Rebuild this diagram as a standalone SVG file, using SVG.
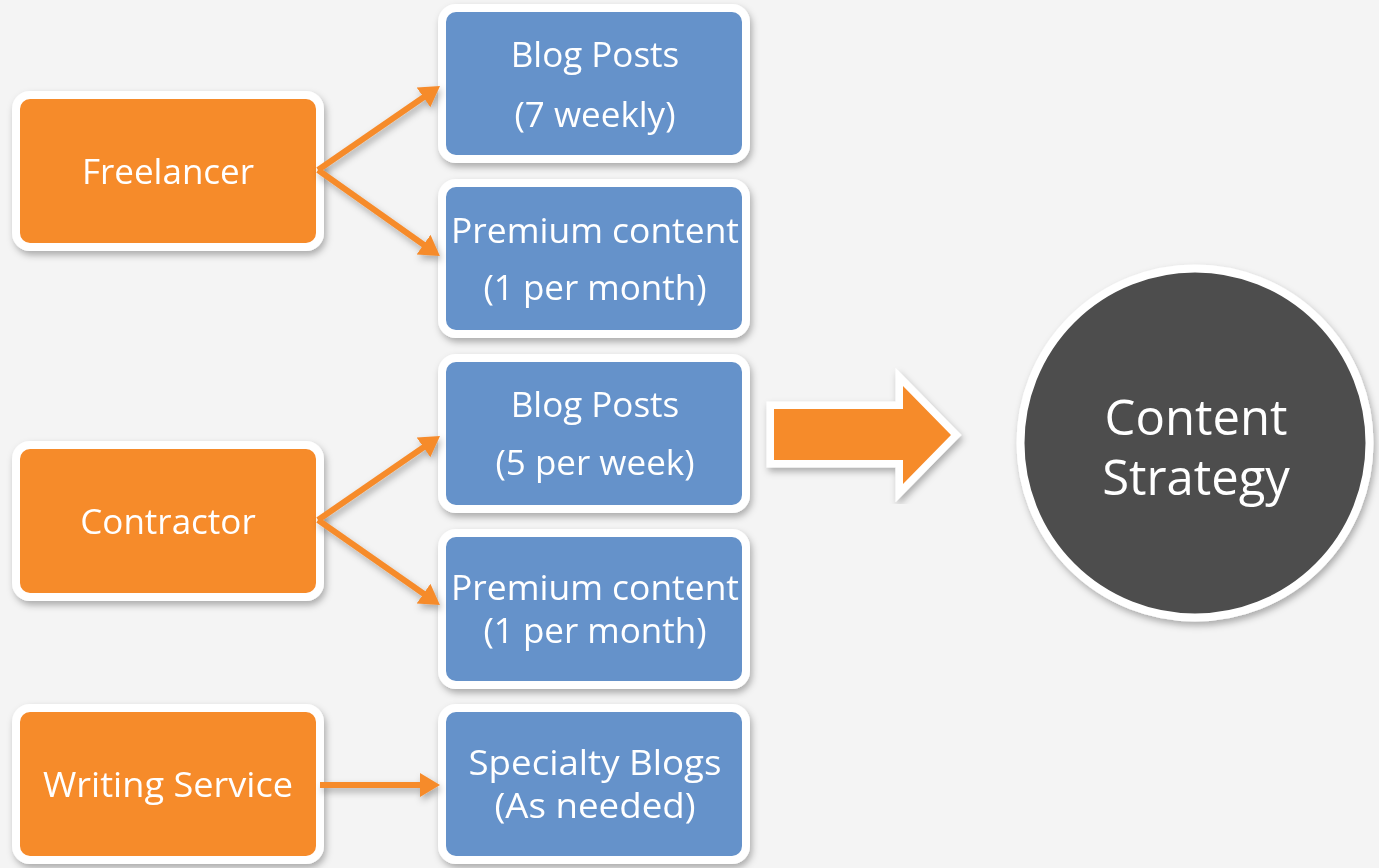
<svg xmlns="http://www.w3.org/2000/svg" width="1379" height="868" viewBox="0 0 1379 868">
  <style>
    .src rect { fill: #F68B2C; stroke: #FFFFFF; stroke-width: 8; }
    .out rect { fill: #6592CA; stroke: #FFFFFF; stroke-width: 8; }
    .lbl { font-family: "Open Sans", "Liberation Sans", sans-serif; font-size: 35px; fill: #FFFFFF; text-anchor: middle; }
    .big { font-family: "Open Sans", "Liberation Sans", sans-serif; font-size: 49px; fill: #FFFFFF; text-anchor: middle; }
    .conn { fill: none; stroke: #F68B2C; stroke-width: 6; marker-end: url(#head); }
  </style>
  <defs>
    <filter id="shadow" x="-20%" y="-20%" width="140%" height="140%">
      <feDropShadow dx="2" dy="4" stdDeviation="3.5" flood-color="#000000" flood-opacity="0.3"/>
    </filter>
    <marker id="head" markerUnits="userSpaceOnUse" markerWidth="22" markerHeight="26" refX="8" refY="12" orient="auto">
      <path d="M0,0 L20,12 L0,24 z" fill="#F68B2C"/>
    </marker>
  </defs>

  <rect width="1379" height="868" fill="#F4F4F4"/>

  <!-- sources -->
  <g id="freelancer" class="src" filter="url(#shadow)">
    <rect x="16" y="95" width="304" height="152" rx="14"/>
    <text class="lbl" x="168" y="184">Freelancer</text>
  </g>
  <g id="contractor" class="src" filter="url(#shadow)">
    <rect x="16" y="445" width="304" height="152" rx="14"/>
    <text class="lbl" x="168" y="534">Contractor</text>
  </g>
  <g id="writing-service" class="src" filter="url(#shadow)">
    <rect x="16" y="708" width="304" height="152" rx="14"/>
    <text class="lbl" x="168" y="797" textLength="250" lengthAdjust="spacingAndGlyphs">Writing Service</text>
  </g>

  <!-- outputs -->
  <g id="blog-posts-weekly" class="out" filter="url(#shadow)">
    <rect x="442" y="8" width="304" height="151" rx="14"/>
    <text class="lbl" x="595" y="67">Blog Posts</text>
    <text class="lbl" x="595" y="127">(7 weekly)</text>
  </g>
  <g id="premium-content-1" class="out" filter="url(#shadow)">
    <rect x="442" y="183" width="304" height="151" rx="14"/>
    <text class="lbl" x="595" y="243" textLength="288" lengthAdjust="spacingAndGlyphs">Premium content</text>
    <text class="lbl" x="595" y="300">(1 per month)</text>
  </g>
  <g id="blog-posts-5" class="out" filter="url(#shadow)">
    <rect x="442" y="358" width="304" height="151" rx="14"/>
    <text class="lbl" x="595" y="417">Blog Posts</text>
    <text class="lbl" x="595" y="475">(5 per week)</text>
  </g>
  <g id="premium-content-2" class="out" filter="url(#shadow)">
    <rect x="442" y="533" width="304" height="152" rx="14"/>
    <text class="lbl" x="595" y="600" textLength="288" lengthAdjust="spacingAndGlyphs">Premium content</text>
    <text class="lbl" x="595" y="643">(1 per month)</text>
  </g>
  <g id="specialty-blogs" class="out" filter="url(#shadow)">
    <rect x="442" y="708" width="304" height="152" rx="14"/>
    <text class="lbl" x="595" y="775" textLength="253" lengthAdjust="spacingAndGlyphs">Specialty Blogs</text>
    <text class="lbl" x="595" y="818" textLength="201" lengthAdjust="spacingAndGlyphs">(As needed)</text>
  </g>

  <!-- connectors, drawn over the box borders -->
  <g id="connectors" filter="url(#shadow)">
    <path class="conn" d="M318,170 L430.1,92.8"/>
    <path class="conn" d="M318,170 L430.1,249.2"/>
    <path class="conn" d="M318,520 L430.1,442.8"/>
    <path class="conn" d="M318,520 L430.1,598.2"/>
    <path class="conn" d="M320,785 L428,785"/>
  </g>

  <!-- block arrow -->
  <g id="block-arrow" filter="url(#shadow)">
    <polygon points="774,409 903,409 903,386 951,435 903,484 903,460 774,460" fill="#FFFFFF" stroke="#FFFFFF" stroke-width="15" stroke-linejoin="miter" stroke-miterlimit="10"/>
    <polygon points="774,409 903,409 903,386 951,435 903,484 903,460 774,460" fill="#F68B2C"/>
  </g>

  <!-- goal -->
  <g id="content-strategy" filter="url(#shadow)">
    <circle cx="1195" cy="443" r="174.5" fill="#4D4D4D" stroke="#FFFFFF" stroke-width="8"/>
    <text class="big" x="1196" y="435">Content</text>
    <text class="big" x="1196" y="495">Strategy</text>
  </g>
</svg>
